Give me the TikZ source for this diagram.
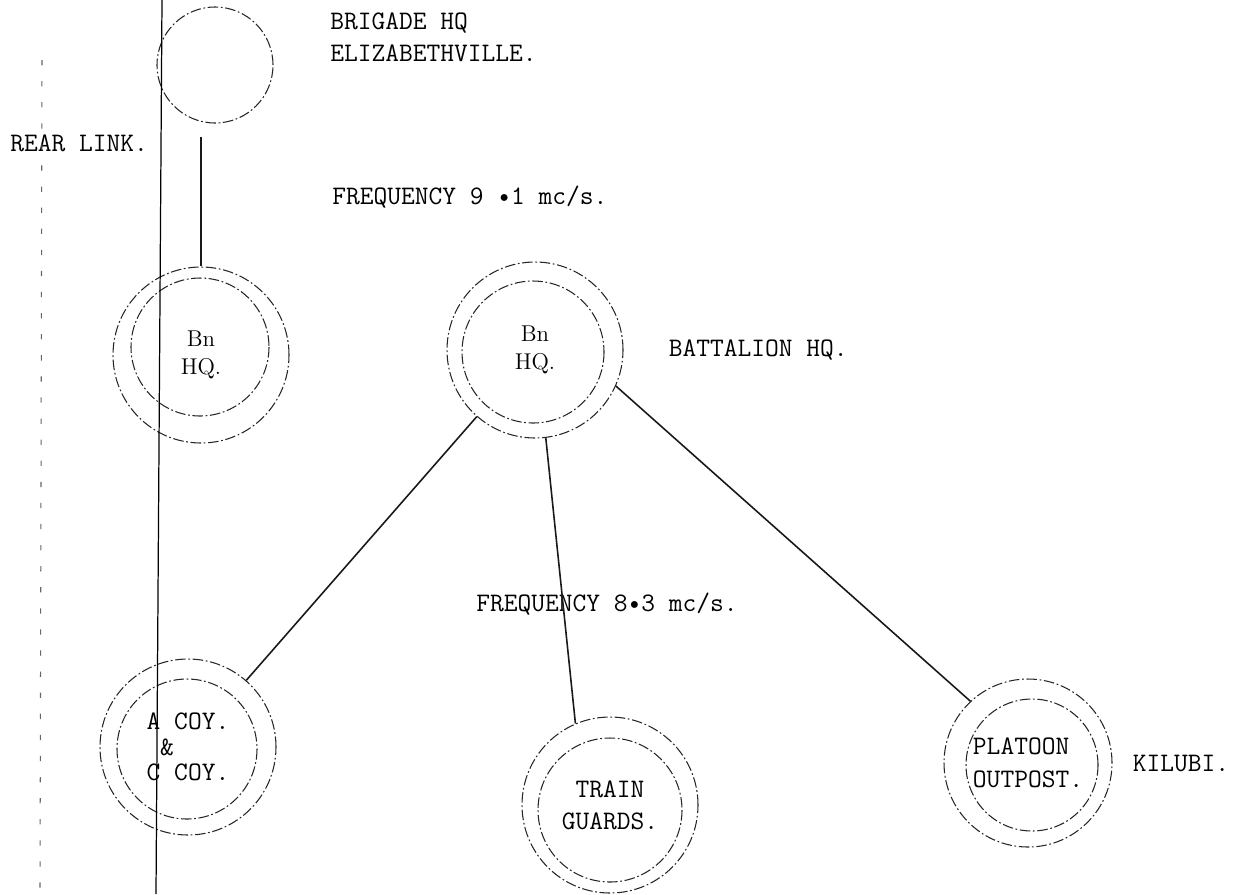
\documentclass[tikz,border=0pt]{standalone}
\usepackage{fontspec}
\usetikzlibrary{positioning}

\begin{document}
\begin{tikzpicture}[
  x=0.2mm, y=-0.2mm,
  font=\fontsize{15.2}{16}\selectfont\ttfamily,
  ring/.style={draw=black!85, line width=0.6pt,
               dash pattern=on 6pt off 1.5pt on 1pt off 1.5pt},
  stn/.style={circle, ring, inner sep=0pt, align=center, minimum size=35.2mm},
  bntext/.style={font=\fontsize{13}{15.5}\selectfont\rmfamily},
  link/.style={line width=0.9pt, draw=black!90},
  txt/.style={anchor=west, inner sep=0pt, align=left}
]
\useasboundingbox (0,0) rectangle (1239,894);

% stations, the node border is the outer ring
\node[stn, minimum size=23.2mm] (brig) at (215,65) {};
\node[stn, bntext] (bnA) at (201,355) {Bn\\HQ.};
\node[stn, bntext] (bnB) at (535,350) {Bn\\HQ.};
\node[stn, align=left] (coy) at (188,747) {A COY.\\[-1.5pt]\hspace{0.5em}\&\\[-1.5pt]C COY.};
\node[stn] (train) at (610,805) {TRAIN\\[2pt]GUARDS.};
\node[stn, minimum size=33.6mm, align=left] (plt) at (1028,763) {PLATOON\\[3pt]OUTPOST.};

% inner rings
\foreach \n/\dx/\dy/\r in {bnA/-1/-8/69, bnB/-2/2/71, coy/-1/2/70, train/0/5/72, plt/4/2/66}
  \draw[ring] ([shift={(\dx,\dy)}]\n.center) circle (\r);

% labels
\node[txt] (brigtxt) at (330,37) {BRIGADE HQ\\[2pt]ELIZABETHVILLE.};
\node[txt] (rear) at (10,143) {REAR LINK.};
\node[txt] (freqA) at (332,197) {FREQUENCY 9 \textbullet1 mc/s.};
\node[txt, right=9mm of bnB] (bathq) {BATTALION HQ.};
\node[txt] (freqB) at (476,604) {FREQUENCY 8\textbullet3 mc/s.};
\node[txt, right=4mm of plt] (kilubi) {KILUBI.};

% margin lines
\coordinate (mtop) at (162,0);
\coordinate (mbot) at (156,894);
\draw[line width=0.7pt] (mtop) -- (mbot);
\coordinate (dtop) at (42,60);
\coordinate (dbot) at (40,894);
\draw[black!60, line width=0.6pt, dash pattern=on 3pt off 9pt] (dtop) -- (dbot);

% links
\draw[link, shorten <=2.6mm] (bnA.north |- brig.south) -- (bnA.north);
\draw[link] (bnB) -- (coy);
\draw[link] (bnB.-83) -- (train.113);
\draw[link] (bnB.-24) -- (plt.133);
\end{tikzpicture}
\end{document}
